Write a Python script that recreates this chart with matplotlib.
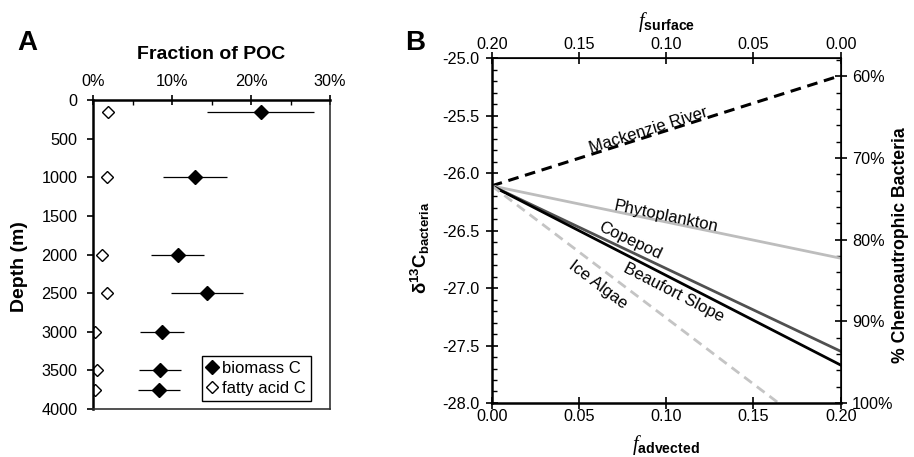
import matplotlib
matplotlib.use("Agg")
import matplotlib.pyplot as plt
from matplotlib.ticker import MultipleLocator, PercentFormatter, FormatStrFormatter

plt.rcParams['font.family'] = ['Liberation Sans', 'DejaVu Sans']
plt.rcParams['mathtext.fontset'] = 'custom'
plt.rcParams['mathtext.rm'] = 'Liberation Sans'
plt.rcParams['mathtext.it'] = 'Liberation Serif:italic'
plt.rcParams['mathtext.bf'] = 'Liberation Sans:bold'

# ---------------- Panel A data ----------------
depth = [150, 1000, 2000, 2500, 3000, 3500, 3750]
biomass = [21.2, 12.85, 10.7, 14.35, 8.7, 8.5, 8.35]
biomass_lo = [14.4, 8.8, 7.25, 9.8, 5.9, 5.75, 5.6]
biomass_hi = [28.0, 16.95, 14.05, 19.0, 11.5, 11.15, 11.0]
fatty = [1.8, 1.75, 1.1, 1.7, 0.26, 0.43, 0.22]

# ---------------- Panel B data ----------------
f_adv = [0.0, 0.2]
mackenzie = [-26.11, -25.15]
phyto = [-26.11, -26.74]
copepod = [-26.11, -27.55]
beaufort = [-26.11, -27.67]
ice_algae = [-26.11, -28.41]

TICK = 11.7

fig = plt.figure(figsize=(9.14, 4.57), dpi=100)

# ---------------- Panel A ----------------
axA = fig.add_axes([0.1021, 0.105, 0.259, 0.676])
xerr = [[b - lo for b, lo in zip(biomass, biomass_lo)],
        [hi - b for b, hi in zip(biomass, biomass_hi)]]
axA.errorbar(biomass, depth, xerr=xerr, fmt='none', ecolor='black', elinewidth=0.9, capsize=0)
axA.plot(biomass, depth, linestyle='none', marker='D', ms=7, mfc='black', mec='black',
         label='biomass C')
axA.plot(fatty, depth, linestyle='none', marker='D', ms=6.5, mfc='white', mec='black',
         mew=1.0, label='fatty acid C')
axA.set_xlim(0, 30)
axA.set_ylim(4000, 0)
axA.xaxis.tick_top()
axA.xaxis.set_label_position('top')
axA.xaxis.set_major_locator(MultipleLocator(10))
axA.xaxis.set_minor_locator(MultipleLocator(5))
axA.xaxis.set_major_formatter(PercentFormatter(100, decimals=0))
axA.yaxis.set_major_locator(MultipleLocator(500))
axA.tick_params(axis='x', which='major', direction='inout', length=7, width=1.2,
                labelsize=TICK, pad=4.5)
axA.tick_params(axis='x', which='minor', direction='in', length=3.5, width=1.0)
axA.tick_params(axis='y', which='major', direction='out', length=4.3, width=1.2,
                labelsize=TICK, pad=7)
axA.set_xlabel('Fraction of POC', fontsize=14, fontweight='bold', va='center')
axA.xaxis.set_label_coords(0.497, 1.146)
axA.set_ylabel('Depth (m)', fontsize=14, fontweight='bold', va='center')
axA.yaxis.set_label_coords(-0.31, 0.46)
for s in ['left', 'top']:
    axA.spines[s].set_linewidth(1.8)
for s in ['right', 'bottom']:
    axA.spines[s].set_linewidth(1.2)
    axA.spines[s].set_color('#333333')
leg = axA.legend(loc='lower right', fontsize=12, frameon=True, fancybox=False,
                 edgecolor='black', framealpha=1, handlelength=0.6, handletextpad=0.3,
                 borderpad=0.3, labelspacing=0.3, borderaxespad=0.5,
                 bbox_to_anchor=(0.955, 0.0))
leg.get_frame().set_linewidth(1.0)

fig.text(0.03, 0.905, 'A', fontsize=20, fontweight='bold', ha='center', va='center')

# ---------------- Panel B ----------------
axB = fig.add_axes([0.538, 0.1182, 0.3818, 0.7542])
axB.plot(f_adv, mackenzie, color='black', lw=2.2, ls=(0, (3.5, 2.2)))
axB.plot(f_adv, phyto, color='#bdbdbd', lw=2.0)
axB.plot(f_adv, copepod, color='#505050', lw=2.0)
axB.plot(f_adv, beaufort, color='black', lw=2.0)
axB.plot(f_adv, ice_algae, color='#c4c4c4', lw=2.0, ls=(0, (3.5, 2.2)))
axB.set_xlim(0, 0.2)
axB.set_ylim(-28, -25)
axB.xaxis.set_major_locator(MultipleLocator(0.05))
axB.xaxis.set_major_formatter(FormatStrFormatter('%.2f'))
axB.yaxis.set_major_locator(MultipleLocator(0.5))
axB.yaxis.set_minor_locator(MultipleLocator(0.1))
axB.yaxis.set_major_formatter(FormatStrFormatter('%.1f'))
axB.tick_params(axis='x', which='major', direction='inout', length=8, width=1.2,
                labelsize=TICK, pad=0.5)
axB.tick_params(axis='y', which='major', direction='inout', length=8, width=1.2,
                labelsize=TICK, pad=5)
axB.tick_params(axis='y', which='minor', direction='in', length=3.5, width=1.0)
for s in ['left', 'bottom']:
    axB.spines[s].set_linewidth(1.8)
for s in ['right', 'top']:
    axB.spines[s].set_linewidth(1.2)

axB.set_xlabel(r'$\mathit{f}_{\mathbf{advected}}$', fontsize=14.5, va='center')
axB.xaxis.set_label_coords(0.5, -0.122)
axB.set_ylabel(r'$\mathbf{\delta^{13}C_{bacteria}}$', fontsize=13.5, va='center')
axB.yaxis.set_label_coords(-0.205, 0.45)

top = axB.secondary_xaxis('top', functions=(lambda x: 0.2 - x, lambda x: 0.2 - x))
top.xaxis.set_major_locator(MultipleLocator(0.05))
top.xaxis.set_major_formatter(FormatStrFormatter('%.2f'))
top.tick_params(direction='inout', length=8, width=1.2, labelsize=TICK, pad=0.5)
top.set_xlabel(r'$\mathit{f}_{\mathbf{surface}}$', fontsize=14.5, va='center')
top.xaxis.set_label_coords(0.5, 1.105, transform=axB.transAxes)

k = 0.0711
right = axB.secondary_yaxis('right', functions=(lambda d: 100 - (d + 28) / k,
                                                lambda p: -28 + (100 - p) * k))
right.yaxis.set_major_locator(MultipleLocator(10))
right.yaxis.set_minor_locator(MultipleLocator(2))
right.yaxis.set_major_formatter(PercentFormatter(100, decimals=0))
right.tick_params(which='major', direction='inout', length=8, width=1.2,
                  labelsize=TICK, pad=4)
right.tick_params(which='minor', direction='in', length=3.5, width=1.0)
right.set_ylabel('% Chemoautrophic Bacteria', fontsize=12.7, fontweight='bold',
                 va='center')
right.yaxis.set_label_coords(1.17, 0.458, transform=axB.transAxes)

lab_kw = dict(fontsize=12, ha='center', va='center', rotation_mode='anchor')
axB.text(0.090, -25.63, 'Mackenzie River', rotation=17.4, **lab_kw)
axB.text(0.100, -26.375, 'Phytoplankton', rotation=-11.8, **lab_kw)
axB.text(0.0793, -26.585, 'Copepod', rotation=-25.4, **lab_kw)
axB.text(0.104, -27.04, 'Beaufort Slope', rotation=-27.2, **lab_kw)
axB.text(0.061, -26.97, 'Ice Algae', rotation=-37.1, **lab_kw)

fig.text(0.454, 0.907, 'B', fontsize=20, fontweight='bold', ha='center', va='center')

fig.savefig('out.png', dpi=100)
